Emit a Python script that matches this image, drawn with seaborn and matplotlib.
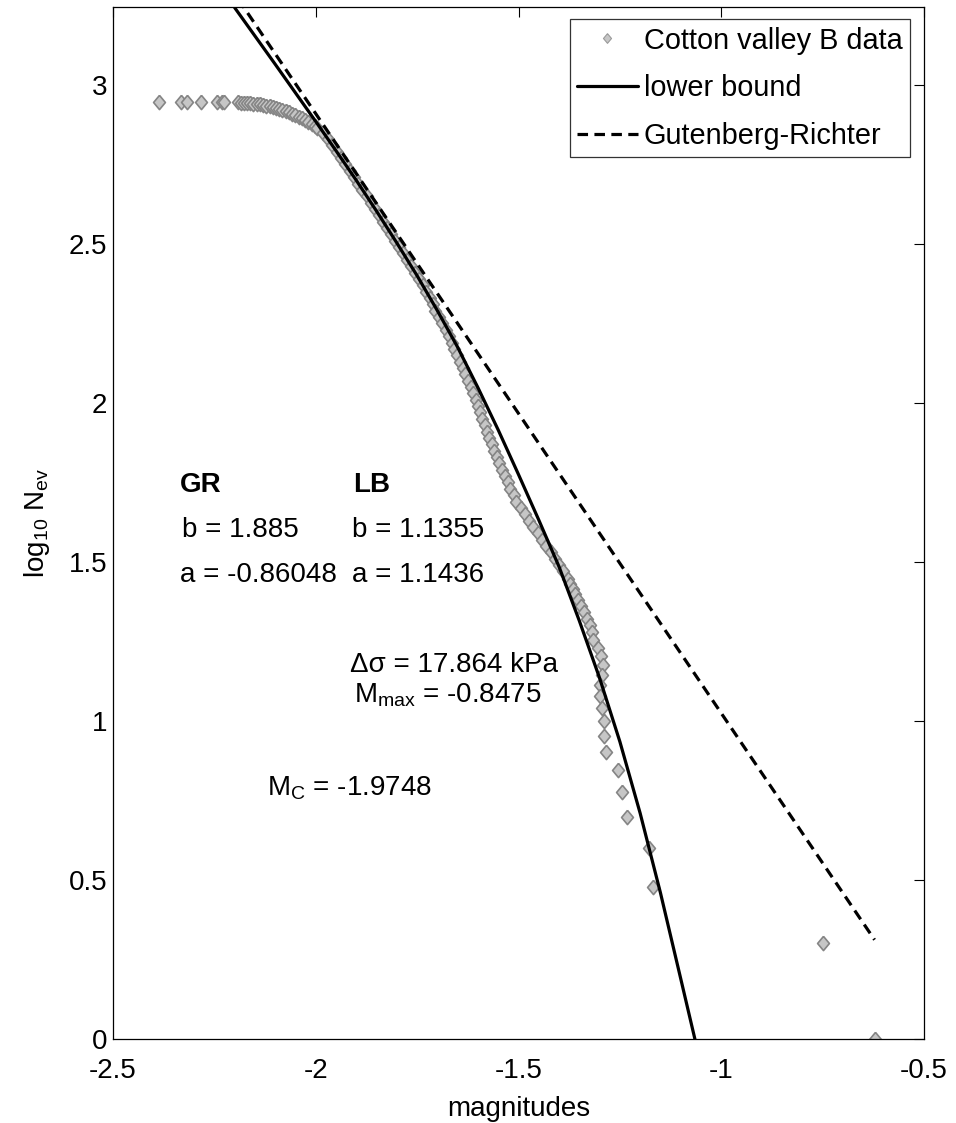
import matplotlib
matplotlib.use("Agg")
import matplotlib.pyplot as plt
import numpy as np
import pandas as pd
import seaborn as sns
from matplotlib.lines import Line2D
from matplotlib.ticker import FixedLocator, FuncFormatter

# Cotton valley B catalogue: magnitude vs log10 of cumulative event count
mag = [
    -2.387, -2.332, -2.318, -2.283, -2.244, -2.231, -2.226,
    -2.192, -2.185, -2.178, -2.170, -2.162, -2.154, -2.146, -2.138,
    -2.130, -2.122, -2.114, -2.106, -2.098, -2.090, -2.082, -2.074,
    -2.066, -2.058, -2.050, -2.042, -2.034, -2.026, -2.018, -2.010,
    -2.003, -1.996,
    -1.981, -1.970, -1.959, -1.948, -1.938, -1.927, -1.916, -1.905,
    -1.895, -1.885, -1.874, -1.864, -1.854, -1.844, -1.834, -1.824,
    -1.814, -1.804, -1.794, -1.784, -1.774, -1.765, -1.755, -1.745,
    -1.736, -1.727, -1.719, -1.711,
    -1.705, -1.696, -1.688, -1.680, -1.672, -1.665, -1.658, -1.652,
    -1.645, -1.638, -1.631, -1.624, -1.618, -1.611, -1.605, -1.600,
    -1.594, -1.589, -1.583, -1.578, -1.572, -1.566, -1.560, -1.553,
    -1.547, -1.541, -1.534, -1.527, -1.520, -1.512, -1.505, -1.495,
    -1.485, -1.475, -1.464, -1.453, -1.442, -1.432, -1.421, -1.410,
    -1.400, -1.390,
    -1.378, -1.372, -1.366, -1.360, -1.353, -1.346, -1.338, -1.330,
    -1.323, -1.319, -1.316, -1.304, -1.296, -1.292, -1.294, -1.299,
    -1.299, -1.294, -1.289, -1.288, -1.284, -1.255, -1.245, -1.232,
    -1.178, -1.168, -0.748, -0.622,
]
log_n = [
    2.947, 2.947, 2.947, 2.947, 2.947, 2.947, 2.946,
    2.945, 2.944, 2.944, 2.943, 2.942, 2.941, 2.940, 2.939,
    2.937, 2.935, 2.933, 2.931, 2.928, 2.925, 2.922, 2.918,
    2.914, 2.909, 2.905, 2.900, 2.895, 2.889, 2.883, 2.877,
    2.870, 2.864,
    2.85, 2.83, 2.81, 2.79, 2.77, 2.75, 2.73, 2.71,
    2.69, 2.67, 2.65, 2.63, 2.61, 2.59, 2.57, 2.55,
    2.53, 2.51, 2.49, 2.47, 2.45, 2.43, 2.41, 2.39,
    2.37, 2.35, 2.33, 2.31,
    2.29, 2.27, 2.25, 2.23, 2.21, 2.19, 2.17, 2.15,
    2.13, 2.11, 2.09, 2.07, 2.05, 2.03, 2.01, 1.99,
    1.97, 1.95, 1.93, 1.91, 1.89, 1.87, 1.85, 1.83,
    1.81, 1.79, 1.77, 1.75, 1.73, 1.71, 1.69, 1.67,
    1.65, 1.63, 1.61, 1.59, 1.57, 1.55, 1.53, 1.51,
    1.49, 1.47,
    1.447, 1.431, 1.415, 1.398, 1.380, 1.362, 1.342, 1.322,
    1.301, 1.279, 1.255, 1.230, 1.204, 1.176, 1.146, 1.114,
    1.079, 1.041, 1.000, 0.954, 0.903, 0.845, 0.778, 0.699,
    0.602, 0.477, 0.301, 0.000,
]

# lower-bound model curve
lb_mag = [-2.20, -2.10, -2.00, -1.95, -1.90, -1.85, -1.80, -1.75, -1.70,
          -1.65, -1.60, -1.55, -1.50, -1.45, -1.40, -1.35, -1.30, -1.25,
          -1.20, -1.15, -1.10, -1.065]
lb_log_n = [3.243, 3.065, 2.885, 2.793, 2.700, 2.603, 2.503, 2.400, 2.290,
            2.175, 2.048, 1.915, 1.775, 1.632, 1.485, 1.315, 1.135, 0.935,
            0.710, 0.460, 0.190, 0.000]

# fitted parameters
gr_b, gr_a = 1.885, -0.86048
lb_b, lb_a = 1.1355, 1.1436
stress_drop = 17.864
m_max = -0.8475
m_c = -1.9748

x_ticks = [-2.5, -2.0, -1.5, -1.0, -0.5]
y_ticks = [0, 0.5, 1.0, 1.5, 2.0, 2.5, 3.0]

data = pd.DataFrame({"magnitude": mag, "log_n": log_n})
lb = pd.DataFrame({"magnitude": lb_mag, "log_n": lb_log_n})
gr_m = np.array([min(mag), max(mag)])
gr = pd.DataFrame({"magnitude": gr_m, "log_n": gr_a - gr_b * gr_m})

sns.set_theme(style="white")
plt.rcParams["font.family"] = ["Liberation Sans", "DejaVu Sans"]
plt.rcParams["mathtext.fontset"] = "custom"
plt.rcParams["mathtext.rm"] = "Liberation Sans"
plt.rcParams["mathtext.it"] = "Liberation Sans:italic"
plt.rcParams["mathtext.bf"] = "Liberation Sans:bold"
plt.rcParams["axes.unicode_minus"] = False
for key in ("text.color", "axes.labelcolor", "xtick.color", "ytick.color",
            "axes.edgecolor"):
    plt.rcParams[key] = "black"

FS = 20
fig = plt.figure(figsize=(9.56, 11.23), dpi=100)
ax = fig.add_axes([113 / 956, 1 - 1039 / 1123, 811 / 956, 1032 / 1123])

diamond = [(0, 1), (0.83, 0), (0, -1), (-0.83, 0), (0, 1)]
face, edge = "#c6c6c6", "#858585"

sns.scatterplot(data=data, x="magnitude", y="log_n", ax=ax, marker=diamond,
                s=105, color=face, edgecolor=edge, linewidth=1.2, zorder=2)
sns.lineplot(data=lb, x="magnitude", y="log_n", ax=ax, color="black",
             lw=2.3, estimator=None, sort=True, zorder=3)
sns.lineplot(data=gr, x="magnitude", y="log_n", ax=ax, color="black",
             lw=2.3, estimator=None, zorder=3)
ax.lines[-1].set_dashes([3.3, 2.0])

ax.set_xlim(-2.5, -0.5)
ax.set_ylim(0, 3.245)
ax.xaxis.set_major_locator(FixedLocator(x_ticks))
ax.yaxis.set_major_locator(FixedLocator(y_ticks))
fmt = FuncFormatter(lambda v, p: f"{v:g}")
ax.xaxis.set_major_formatter(fmt)
ax.yaxis.set_major_formatter(fmt)
ax.tick_params(axis="both", direction="in", top=True, right=True,
               length=7.5, width=0.8, color="black", labelcolor="black",
               labelsize=FS)
ax.tick_params(axis="x", pad=14)
ax.tick_params(axis="y", pad=4)
for sp in ax.spines.values():
    sp.set_color("black")
    sp.set_linewidth(0.9)

ax.set_xlabel("magnitudes", fontsize=FS, labelpad=8)
ax.set_ylabel(r"$\mathrm{log_{10}\ N_{ev}}$", fontsize=FS, labelpad=12)

# fit summary text
ax.text(-2.335, 1.720, "GR", fontsize=FS, fontweight="bold", va="baseline")
ax.text(-1.908, 1.720, "LB", fontsize=FS, fontweight="bold", va="baseline")
ax.text(-2.330, 1.579, f"b = {gr_b:g}", fontsize=FS, va="baseline")
ax.text(-1.911, 1.579, f"b = {lb_b:g}", fontsize=FS, va="baseline")
ax.text(-2.335, 1.437, f"a = {gr_a:g}", fontsize=FS, va="baseline")
ax.text(-1.911, 1.437, f"a = {lb_a:g}", fontsize=FS, va="baseline")
ax.text(-1.916, 1.154, f"\u0394\u03c3 = {stress_drop:g} kPa", fontsize=FS,
        va="baseline")
ax.text(-1.906, 1.057, r"$\mathrm{M_{max}}$" + f" = {m_max:g}", fontsize=FS,
        va="baseline")
ax.text(-2.120, 0.767, r"$\mathrm{M_C}$" + f" = {m_c:g}", fontsize=FS,
        va="baseline")

handles = [
    Line2D([], [], ls="none", marker=diamond, ms=7, mfc=face, mec="#9a9a9a",
           mew=0.8),
    Line2D([], [], color="black", lw=2.3),
    Line2D([], [], color="black", lw=2.3, dashes=[3.3, 2.0]),
]
labels = ["Cotton valley B data", "lower bound", "Gutenberg-Richter"]
leg = ax.legend(handles, labels, loc="upper right",
                bbox_to_anchor=(0.9827, 0.9880), borderaxespad=0,
                fontsize=20.8, frameon=True, fancybox=False, framealpha=1,
                edgecolor="#333333", handlelength=2.1, handletextpad=0.22,
                borderpad=0.25, labelspacing=0.68, numpoints=1)
leg.get_frame().set_linewidth(0.9)

fig.savefig("out.png", dpi=100, facecolor="white")
